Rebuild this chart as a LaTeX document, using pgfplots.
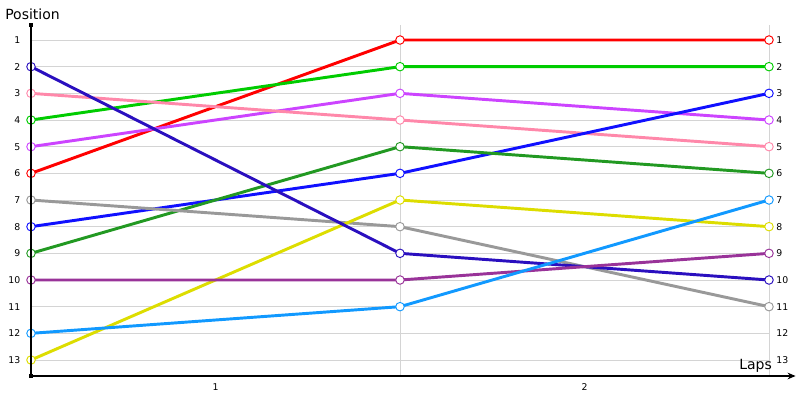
\documentclass[border=0pt]{standalone}
\usepackage{pgfplots}
\pgfplotsset{compat=1.18}
\usepackage{fontspec}
\setmainfont{DejaVu Sans}
\usetikzlibrary{arrows.meta}
\definecolor{cRed}{HTML}{FF0000}
\definecolor{cGreen}{HTML}{00CC00}
\definecolor{cViolet}{HTML}{CC44FF}
\definecolor{cPink}{HTML}{FF88AA}
\definecolor{cBlue}{HTML}{1010FF}
\definecolor{cDGreen}{HTML}{229922}
\definecolor{cGray}{HTML}{999999}
\definecolor{cYellow}{HTML}{DDDD00}
\definecolor{cNavy}{HTML}{2A0FBF}
\definecolor{cPurple}{HTML}{993399}
\definecolor{cLBlue}{HTML}{1199FF}
\definecolor{cGrid}{HTML}{D4D4D4}
\pgfplotsset{
  common/.style={
    scale only axis, width=553.5pt, height=263.25pt,
    xmin=0, xmax=2, ymin=0.4375, ymax=13.6, y dir=reverse,
    clip=false, major tick length=0pt,
    /pgf/number format/assume math mode=true,
    ytick={1,2,3,4,5,6,7,8,9,10,11,12,13},
    ticklabel style={font=\fontsize{7}{8}\selectfont},
  },
  ser/.style={line width=2.2pt, color=#1, mark=*, mark size=3.2pt,
    mark options={fill=white, draw=#1, line width=0.7pt}},
}
\begin{document}
\begin{tikzpicture}
\begin{axis}[common,
  axis line style={draw=none},
  xtick={0.5,1.5}, xticklabels={1,2},
  extra x ticks={1,2}, extra x tick labels={},
  extra x tick style={grid=major, major grid style={cGrid, line width=0.7pt}},
  ymajorgrids, major grid style={cGrid, line width=0.7pt},
  xticklabel style={yshift=-2pt},
  yticklabel style={xshift=-4.5pt},
]
\addplot[ser=cRed] coordinates {(0,6) (1,1) (2,1)};
\addplot[ser=cGreen] coordinates {(0,4) (1,2) (2,2)};
\addplot[ser=cViolet] coordinates {(0,5) (1,3) (2,4)};
\addplot[ser=cPink] coordinates {(0,3) (1,4) (2,5)};
\addplot[ser=cBlue] coordinates {(0,8) (1,6) (2,3)};
\addplot[ser=cDGreen] coordinates {(0,9) (1,5) (2,6)};
\addplot[ser=cGray] coordinates {(0,7) (1,8) (2,11)};
\addplot[ser=cYellow] coordinates {(0,13) (1,7) (2,8)};
\addplot[ser=cNavy] coordinates {(0,2) (1,9) (2,10)};
\addplot[ser=cPurple] coordinates {(0,10) (1,10) (2,9)};
\addplot[ser=cLBlue] coordinates {(0,12) (1,11) (2,7)};
\coordinate (BL) at (axis cs:0,13.6);
\coordinate (TL) at (axis cs:0,0.4375);
\coordinate (XE) at (axis cs:2.072,13.6);
\end{axis}
\begin{axis}[common,
  axis line style={draw=none}, xtick=\empty,
  yticklabel pos=right,
  yticklabel style={anchor=west, xshift=2pt},
]
\end{axis}
\draw[black, line width=0.9pt, -{Stealth[length=6pt,width=5pt]}] (BL) -- (XE);
\draw[black, line width=0.9pt] (BL) -- (TL);
\fill[black] ([shift={(-1.5pt,-1.5pt)}]TL) rectangle ([shift={(1.5pt,1.5pt)}]TL);
\fill[black] ([shift={(-1.5pt,-1.5pt)}]BL) rectangle ([shift={(1.5pt,1.5pt)}]BL);
\node[anchor=base west, inner sep=0pt, font=\fontsize{10.5}{12}\selectfont] at ([shift={(-19.5pt,267pt)}]BL) {Position};
\node[anchor=base west, inner sep=0pt, font=\fontsize{10.5}{12}\selectfont] at ([shift={(531pt,5pt)}]BL) {Laps};
\pgfresetboundingbox
\path[use as bounding box] ([shift={(-23.25pt,-18pt)}]BL) rectangle ([shift={(576.75pt,282pt)}]BL);
\end{tikzpicture}
\end{document}
